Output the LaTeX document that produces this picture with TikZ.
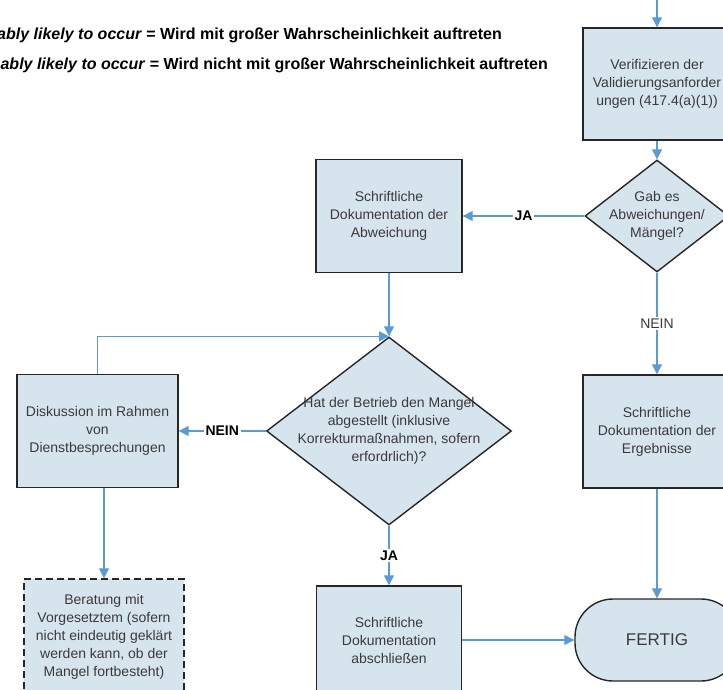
\documentclass[tikz,border=0pt]{standalone}
\usepackage{fontspec}
\setmainfont{Liberation Sans}
\usetikzlibrary{arrows.meta,shapes.geometric}
\definecolor{boxfill}{RGB}{214,228,238}
\definecolor{boxline}{RGB}{38,38,38}
\definecolor{arrblue}{RGB}{91,155,213}
\definecolor{txtgray}{RGB}{58,58,58}
\tikzset{
  stepbox/.style={draw=boxline, line width=1.4pt, fill=boxfill, inner sep=0pt, align=center,
    text=txtgray, font=\fontsize{14}{18}\selectfont},
  dashbox/.style={stepbox, dashed, dash pattern=on 7pt off 4pt},
  decision/.style={draw=boxline, line width=1.4pt, fill=boxfill, diamond, inner sep=0pt},
  dectext/.style={align=center, text=txtgray, inner sep=0pt, font=\fontsize{14}{18}\selectfont},
  endbox/.style={stepbox, rounded corners=38pt, font=\fontsize{17}{20}\selectfont},
  arr/.style={draw=arrblue, line width=1.3pt, -{Triangle[length=10pt,width=10pt]}},
  yes/.style={fill=white, inner sep=2pt, text=black, font=\fontsize{14}{16}\selectfont\bfseries},
  nolbl/.style={fill=white, inner sep=2pt, text=txtgray, font=\fontsize{14}{16}\selectfont},
  legend/.style={anchor=east, inner sep=0pt, text=black, font=\fontsize{16}{18}\selectfont\bfseries}
}
\begin{document}
\begin{tikzpicture}[x=1pt,y=-1pt]
\useasboundingbox (0,0) rectangle (723,690);
\clip (0,0) rectangle (723,690);

% legend
\node[legend] (leg1) at (502,35) {\textit{ably likely to occur} = Wird mit großer Wahrscheinlichkeit auftreten};
\node[legend] (leg2) at (548,65) {\textit{ably likely to occur} = Wird nicht mit großer Wahrscheinlichkeit auftreten};

% nodes
\coordinate (topin) at (657,0);
\node[stepbox, minimum width=148pt, minimum height=112pt] (verif) at (657,84)
  {Verifizieren der\\Validierungsanforder\\ungen (417.4(a)(1))};
\node[decision, minimum width=144pt, minimum height=112pt] (gab) at (657,216) {};
\node[dectext] (gabt) at (657,216) {Gab es\\Abweichungen/\\Mängel?};
\node[stepbox, minimum width=146pt, minimum height=113pt] (abw) at (389,216)
  {Schriftliche\\Dokumentation der\\Abweichung};
\node[decision, minimum width=245pt, minimum height=188pt] (betr) at (389,431) {};
\node[dectext] (betrt) at (389,431) {Hat der Betrieb den Mangel\\abgestellt (inklusive\\Korrekturmaßnahmen, sofern\\erfordrlich)?};
\node[stepbox, minimum width=161pt, minimum height=113pt] (disk) at (97.5,431)
  {Diskussion im Rahmen\\von\\Dienstbesprechungen};
\node[stepbox, minimum width=148pt, minimum height=113pt] (erg) at (657,431.5)
  {Schriftliche\\Dokumentation der\\Ergebnisse};
\node[dashbox, minimum width=160pt, minimum height=116pt] (berat) at (104,637)
  {Beratung mit\\Vorgesetztem (sofern\\nicht eindeutig geklärt\\werden kann, ob der\\Mangel fortbesteht)};
\node[stepbox, minimum width=145pt, minimum height=108pt] (absch) at (389,640)
  {Schriftliche\\Dokumentation\\abschließen};
\node[endbox, minimum width=164pt, minimum height=82pt] (fertig) at (657,640) {FERTIG};

% connectors
\draw[arr] (topin) -- (verif.north);
\draw[arr] (verif.south) -- (gab.north);
\draw[arr] (gab.west) -- node[yes] (ja1) {JA} (abw.east);
\draw[arr] (gab.south) -- node[nolbl, pos=0.5] (nein1) {NEIN} (erg.north);
\draw[arr] (abw.south) -- (betr.north);
\draw[arr] (disk.north) |- (betr.north);
\draw[arr] (betr.west) -- node[yes] (nein2) {NEIN} (disk.east);
\draw[arr] (berat.north |- disk.south) -- (berat.north);
\draw[arr] (betr.south) -- node[yes] (ja2) {JA} (absch.north);
\draw[arr] (absch.east) -- (fertig.west);
\draw[arr] (erg.south) -- (fertig.north);
\end{tikzpicture}
\end{document}
